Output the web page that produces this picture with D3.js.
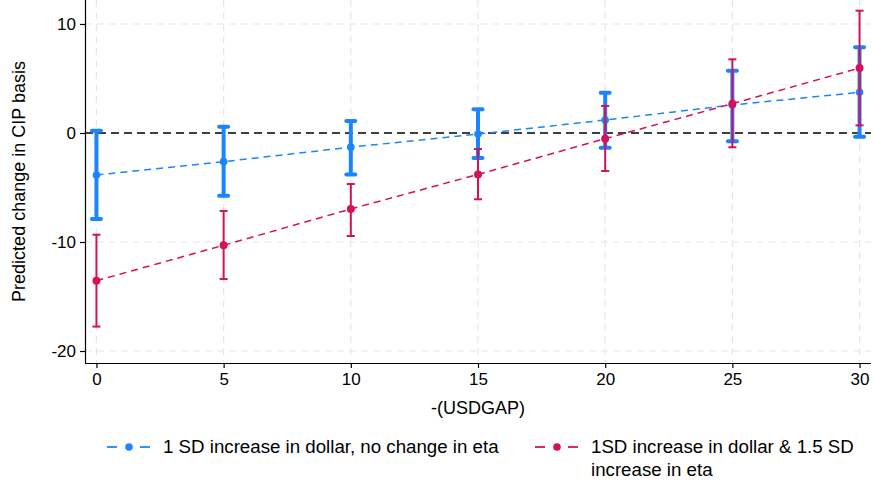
<!DOCTYPE html>
<html lang="en">
<head>
<meta charset="UTF-8">
<title>Predicted change in CIP basis</title>
<script src="https://d3js.org/d3.v7.min.js"></script>
<style>
  body { margin: 0; background: #fff; }
  text { font-family: Arial, "Liberation Sans", sans-serif; fill: #000; }
</style>
</head>
<body>
<script>
    // data
    var gaps = [0, 5, 10, 15, 20, 25, 30];
    var xTicks = [0, 5, 10, 15, 20, 25, 30];
    var yTicks = [-20, -10, 0, 10];

    var blueMid = [-3.85, -2.63, -1.3, -0.1, 1.19, 2.57, 3.73];
    var blueLo  = [-7.9, -5.75, -3.8, -2.3, -1.35, -0.76, -0.34];
    var blueHi  = [0.2, 0.58, 1.1, 2.17, 3.7, 5.7, 7.86];

    var redMid = [-13.55, -10.3, -6.97, -3.8, -0.52, 2.69, 5.96];
    var redLo  = [-17.76, -13.4, -9.45, -6.08, -3.49, -1.31, 0.7];
    var redHi  = [-9.33, -7.16, -4.68, -1.47, 2.48, 6.76, 11.22];

    var legendLabels = [
        ["1 SD increase in dollar, no change in eta"],
        ["1SD increase in dollar & 1.5 SD", "increase in eta"]
    ];

    var W = 873, H = 483;
    var pLeft = 85, pRight = 871, pTop = 0, pBottom = 363;
    var blue = '#1a85ff', red = '#d41159';

    var svg = d3.select('body').append('svg')
        .attr('width', W)
        .attr('height', H);

    var x = d3.scaleLinear().domain([-0.45, 30.45]).range([pLeft, pRight]);
    var y = d3.scaleLinear().domain([-21.1, 12.2]).range([pBottom, pTop]);

    // grid
    svg.append('g').selectAll('line')
        .data(xTicks).enter().append('line')
        .attr('x1', d => x(d)).attr('x2', d => x(d))
        .attr('y1', pTop).attr('y2', pBottom)
        .attr('stroke', '#e6e6e6').attr('stroke-width', 1.2)
        .attr('stroke-dasharray', '7,5');

    svg.append('g').selectAll('line')
        .data(yTicks.filter(d => d !== 0)).enter().append('line')
        .attr('x1', pLeft).attr('x2', pRight)
        .attr('y1', d => y(d)).attr('y2', d => y(d))
        .attr('stroke', '#e6e6e6').attr('stroke-width', 1.2)
        .attr('stroke-dasharray', '7,5');

    // zero line
    svg.append('line')
        .attr('x1', pLeft).attr('x2', pRight)
        .attr('y1', y(0)).attr('y2', y(0))
        .attr('stroke', '#000').attr('stroke-width', 1.5)
        .attr('stroke-dasharray', '8,5');

    // axes (plain hyphen for negatives, like the original)
    var fmt = d => String(d);
    var xAxis = svg.append('g')
        .attr('transform', 'translate(0,' + pBottom + ')')
        .call(d3.axisBottom(x).tickValues(xTicks).tickFormat(fmt).tickSize(5).tickPadding(5));
    var yAxis = svg.append('g')
        .attr('transform', 'translate(' + pLeft + ',0)')
        .call(d3.axisLeft(y).tickValues(yTicks).tickFormat(fmt).tickSize(5).tickPadding(4));

    [xAxis, yAxis].forEach(function (a) {
        a.select('.domain').attr('stroke', '#000').attr('stroke-width', 1.2);
        a.selectAll('.tick line').attr('stroke', '#000').attr('stroke-width', 1.2);
        a.selectAll('.tick text').attr('font-size', 17).attr('font-family', 'Arial, "Liberation Sans", sans-serif');
    });
    yAxis.select('.domain').attr('d', 'M0.5,' + pBottom + 'V' + pTop);
    xAxis.select('.domain').attr('d', 'M' + pLeft + ',0.5H' + pRight);

    svg.append('text')
        .attr('x', (pLeft + pRight) / 2).attr('y', 414)
        .attr('text-anchor', 'middle').attr('font-size', 18)
        .text('-(USDGAP)');

    svg.append('text')
        .attr('transform', 'translate(25,' + (pTop + pBottom) / 2 + ') rotate(-90)')
        .attr('text-anchor', 'middle').attr('font-size', 18)
        .text('Predicted change in CIP basis');

    // series
    var series = [
        { mid: blueMid, lo: blueLo, hi: blueHi, color: blue, barW: 4, capW: 9, r: 3.8 },
        { mid: redMid, lo: redLo, hi: redHi, color: red, barW: 2, capW: 8, r: 4 }
    ];

    var line = d3.line().x(d => x(d[0])).y(d => y(d[1]));

    series.forEach(function (s) {
        var g = svg.append('g');
        var pts = gaps.map((d, i) => [d, s.mid[i]]);

        g.append('path')
            .attr('d', line(pts))
            .attr('fill', 'none')
            .attr('stroke', s.color).attr('stroke-width', 1.5)
            .attr('stroke-dasharray', '7,5');

        var bars = g.selectAll('.bar').data(gaps).enter().append('g');
        bars.append('line')
            .attr('x1', d => x(d)).attr('x2', d => x(d))
            .attr('y1', (d, i) => y(s.lo[i])).attr('y2', (d, i) => y(s.hi[i]))
            .attr('stroke', s.color).attr('stroke-width', s.barW);
        ['lo', 'hi'].forEach(function (k) {
            bars.append('line')
                .attr('x1', d => x(d) - s.capW / 2).attr('x2', d => x(d) + s.capW / 2)
                .attr('y1', (d, i) => y(s[k][i])).attr('y2', (d, i) => y(s[k][i]))
                .attr('stroke', s.color).attr('stroke-width', s.barW)
                .attr('stroke-linecap', s.barW > 2 ? 'round' : 'butt');
        });

        g.selectAll('circle').data(pts).enter().append('circle')
            .attr('cx', d => x(d[0])).attr('cy', d => y(d[1]))
            .attr('r', s.r).attr('fill', s.color);
    });

    // legend
    var legendX = [107, 535];
    legendLabels.forEach(function (lines, i) {
        var g = svg.append('g').attr('transform', 'translate(' + legendX[i] + ',447)');
        var c = series[i].color;
        g.append('line').attr('x1', 0).attr('x2', 10).attr('y1', 0).attr('y2', 0)
            .attr('stroke', c).attr('stroke-width', 1.8);
        g.append('line').attr('x1', 33).attr('x2', 43).attr('y1', 0).attr('y2', 0)
            .attr('stroke', c).attr('stroke-width', 1.8);
        g.append('circle').attr('cx', 22).attr('cy', 0).attr('r', 3.8).attr('fill', c);
        var t = g.append('text').attr('x', 56).attr('y', 6).attr('font-size', 18.7);
        lines.forEach(function (l, j) {
            t.append('tspan').attr('x', 56).attr('dy', j === 0 ? 0 : 23).text(l);
        });
    });
</script>
</body>
</html>
